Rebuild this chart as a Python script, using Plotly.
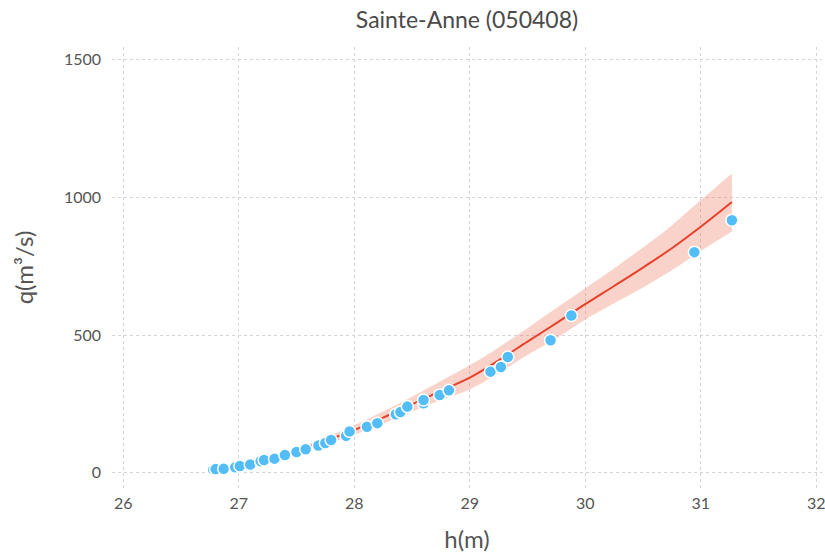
import plotly.graph_objects as go

# Observed gaugings (stage h in m, discharge q in m3/s)
obs_h = [26.78, 26.80, 26.87, 26.97, 27.01, 27.10, 27.19, 27.22, 27.31, 27.40,
         27.50, 27.58, 27.69, 27.75, 27.80, 27.93, 27.96, 28.11, 28.20, 28.36,
         28.40, 28.46, 28.60, 28.60, 28.74, 28.82, 29.18, 29.27, 29.33, 29.70,
         29.88, 30.945, 31.27]
obs_q = [11, 13, 14, 20, 24, 30, 42, 46, 51, 64,
         75, 85, 99, 108, 119, 134, 150, 167, 180, 212,
         220, 240, 252, 264, 282, 299, 367, 384, 420, 481,
         571, 801, 917]

# Rating curve and its uncertainty band
curve_h = [26.78, 27.0, 27.25, 27.5, 27.75, 28.0, 28.25, 28.5, 28.75, 29.0,
           29.25, 29.5, 29.75, 30.0, 30.25, 30.5, 30.75, 31.0, 31.27]
curve_q = [7, 23, 48, 79, 115, 155, 200, 248, 297, 345,
           408, 476, 543, 612, 678, 745, 815, 893, 983]
curve_up = [9, 27, 55, 89, 128, 172, 222, 276, 333, 390,
            455, 525, 598, 670, 742, 818, 898, 990, 1087]
curve_lo = [5, 19, 41, 69, 102, 138, 178, 222, 264, 302,
            362, 427, 487, 556, 615, 673, 735, 805, 876]

x_ticks = [26, 27, 28, 29, 30, 31, 32]
y_ticks = [0, 500, 1000, 1500]

title_text = "Sainte-Anne (050408)"
x_title = "h(m)"
y_title = "q(m³/s)"

FONT = "Lato, 'Open Sans', sans-serif"
TXT = "#555555"
GRID = "#d3d3de"

fig = go.Figure()

fig.add_trace(go.Scatter(
    x=curve_h, y=curve_lo,
    mode="lines",
    line=dict(width=0, shape="spline", color="rgba(0,0,0,0)"),
    hoverinfo="skip",
    showlegend=False,
))
fig.add_trace(go.Scatter(
    x=curve_h, y=curve_up,
    mode="lines",
    fill="tonexty",
    fillcolor="rgba(235,110,80,0.30)",
    line=dict(width=0, shape="spline", color="rgba(0,0,0,0)"),
    hoverinfo="skip",
    showlegend=False,
))

fig.add_trace(go.Scatter(
    x=curve_h, y=curve_q,
    mode="lines",
    line=dict(color="#e8402a", width=2, shape="spline"),
    showlegend=False,
))

fig.add_trace(go.Scatter(
    x=obs_h, y=obs_q,
    mode="markers",
    marker=dict(size=12, color="#52bdf7", line=dict(color="white", width=1.5)),
    showlegend=False,
))

fig.update_layout(
    width=825, height=554,
    margin=dict(l=112, r=0, t=47, b=66),
    paper_bgcolor="white",
    plot_bgcolor="white",
    font=dict(family=FONT, color=TXT),
    title=dict(text=title_text, x=0.5, xref="paper", xanchor="center",
               y=1 - 20 / 554, yref="container", yanchor="middle",
               font=dict(size=23, color="#4a4a4a", family=FONT)),
    xaxis=dict(
        range=[25.903, 32.05],
        tickmode="array", tickvals=x_ticks, ticktext=[str(v) for v in x_ticks],
        showgrid=True, gridcolor=GRID, griddash="dot", gridwidth=1,
        zeroline=False, showline=False, ticks="",
        ticklabelstandoff=4, ticklabeloverflow="allow",
        tickfont=dict(size=16, color=TXT, family=FONT),
        title=dict(text=x_title, font=dict(size=24, color=TXT, family=FONT), standoff=20),
    ),
    yaxis=dict(
        range=[-55.6, 1546],
        tickmode="array", tickvals=y_ticks, ticktext=[str(v) for v in y_ticks],
        showgrid=True, gridcolor=GRID, griddash="dot", gridwidth=1,
        zeroline=False, showline=False, ticks="",
        ticklabelstandoff=10,
        tickfont=dict(size=16, color=TXT, family=FONT),
        title=dict(text=y_title, font=dict(size=24, color=TXT, family=FONT), standoff=23),
    ),
)

fig.write_html("out.html")
